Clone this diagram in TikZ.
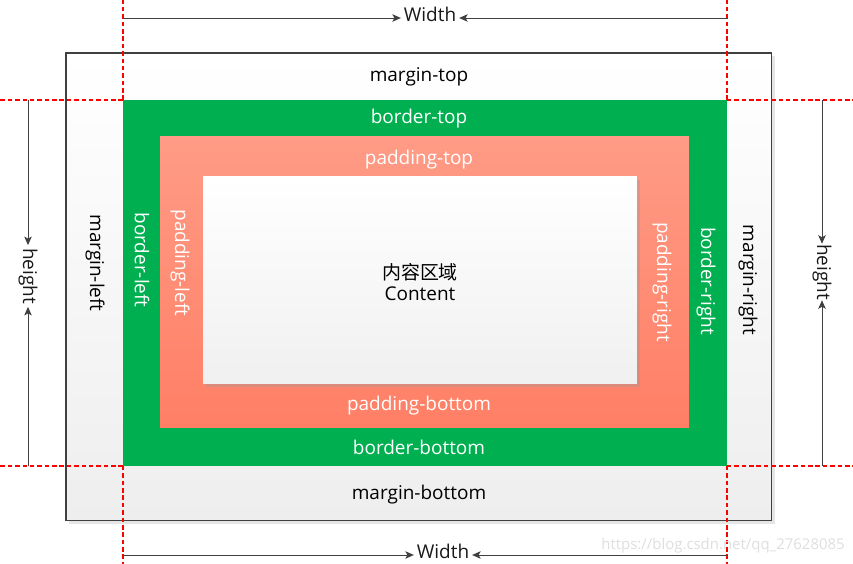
\documentclass[tikz,border=0pt]{standalone}
\usepackage{fontspec}
\setmainfont{Open Sans}
\newfontfamily\cjk{Noto Sans CJK SC}
\usetikzlibrary{arrows.meta,positioning}
\definecolor{Green}{HTML}{00AF50}
\definecolor{PadTop}{HTML}{FF9B86}
\definecolor{PadBot}{HTML}{FF7F65}
\definecolor{MarBot}{HTML}{EEEEEE}
\definecolor{ConBot}{HTML}{F0F0F0}
\definecolor{Edge}{HTML}{404040}
\definecolor{Guide}{HTML}{FF0000}
\definecolor{Mark}{HTML}{DEDEDE}
\tikzset{
  box/.style={inner sep=0pt,outer sep=0pt,anchor=north west},
  lbl/.style={inner sep=1pt,font=\fontsize{10.8}{12.8}\selectfont},
  wlbl/.style={lbl,text=white},
  side/.style={lbl,rotate=-90},
  wside/.style={wlbl,rotate=-90},
  dimtxt/.style={inner sep=1.5pt,text=black!90,font=\fontsize{10.8}{12.8}\selectfont},
  dim/.style={-{Stealth[length=1.7mm,width=1.5mm,inset=.4mm]},draw=Edge,line width=.5pt},
  guide/.style={draw=Guide,dash pattern=on 2.6pt off 1.6pt,line width=.8pt},
}

\begin{document}
\begin{tikzpicture}[x=0.02cm,y=-0.02cm]
  \useasboundingbox (0,0) rectangle (853,564);
  % shadows
  \fill[black!10] (69,56) rectangle (775,524);
  % box model
  \node[box,draw=Edge,line width=.6pt,top color=white,bottom color=MarBot,minimum width=14.12cm,minimum height=9.36cm] (mbox) at (66,53) {};
  \node[box,fill=Green,minimum width=12.08cm,minimum height=7.32cm] (bbox) at (123,100) {};
  \node[box,top color=PadTop,bottom color=PadBot,minimum width=10.58cm,minimum height=5.82cm] (pbox) at (160,137) {};
  \fill[black!40,opacity=.35] (206,180) rectangle (640,387);
  \node[box,top color=white,bottom color=ConBot,minimum width=8.68cm,minimum height=4.14cm] (cbox) at (203,177) {};

  \node[lbl] (mt) at (419,76.5) {margin-top};
  \node[wlbl] (bt) at (419,118.5) {border-top};
  \node[wlbl] (pt) at (419,159.5) {padding-top};
  \node[lbl,align=center,inner sep=0pt] (ct) at (420,282) {{\cjk 内容区域}\\[-1pt]Content};
  \node[wlbl] (pb) at (419,405.5) {padding-bottom};
  \node[wlbl] (bb) at (419,447.5) {border-bottom};
  \node[lbl] (mb) at (419,494.5) {margin-bottom};
  \node[side] (ml) at (95,263) {margin-left};
  \node[wside] (bl) at (142,260) {border-left};
  \node[wside] (pl) at (180,263) {padding-left};
  \node[wside] (pr) at (662,282) {padding-right};
  \node[wside] (br) at (706,281) {border-right};
  \node[side] (mr) at (748,280) {margin-right};

  % red guides
  \draw[guide] (bbox.north west) -- (bbox.north west |- 0,0);
  \draw[guide] (bbox.north east) -- (bbox.north east |- 0,0);
  \draw[guide] (bbox.south west) -- (bbox.south west |- 0,564);
  \draw[guide] (bbox.south east) -- (bbox.south east |- 0,564);
  \draw[guide] (bbox.north west) -- (bbox.north west -| 0,0);
  \draw[guide] (bbox.north east) -- (bbox.north east -| 853,0);
  \draw[guide] (bbox.south west) -- (bbox.south west -| 0,0);
  \draw[guide] (bbox.south east) -- (bbox.south east -| 853,0);

  % dimensions
  \node[dimtxt] (wt) at (430,14) {Width};
  \node[dimtxt] (wb) at (443,551) {Width};
  \node[dimtxt,rotate=-90] (hl) at (28,276) {height};
  \node[dimtxt,rotate=-90,inner sep=0pt] (hr) at (822,272) {height};
  \coordinate (wtl) at (123,18);
  \coordinate (wtr) at (727,18);
  \coordinate (wbl) at (123,555);
  \coordinate (wbr) at (727,555);
  \coordinate (hlt) at (28,100);
  \coordinate (hlb) at (28,466);
  \coordinate (hrt) at (822,100);
  \coordinate (hrb) at (822,466);
  \draw[dim] (wtl) -- (wtl -| wt.west);
  \draw[dim] (wtr) -- (wtr -| wt.east);
  \draw[dim] (wbl) -- (wbl -| wb.west);
  \draw[dim] (wbr) -- (wbr -| wb.east);
  \draw[dim] (hlt) -- (hlt |- hl.west);
  \draw[dim] (hlb) -- (hlb |- hl.east);
  \draw[dim] (hrt) -- (hrt |- hr.west);
  \draw[dim] (hrb) -- (hrb |- hr.east);

  \node[anchor=east,inner sep=0pt,text=Mark,font=\fontsize{8.5}{10}\selectfont] (wm) at (845,546) {https://blog.csdn.net/qq\_27628085};
\end{tikzpicture}
\end{document}
